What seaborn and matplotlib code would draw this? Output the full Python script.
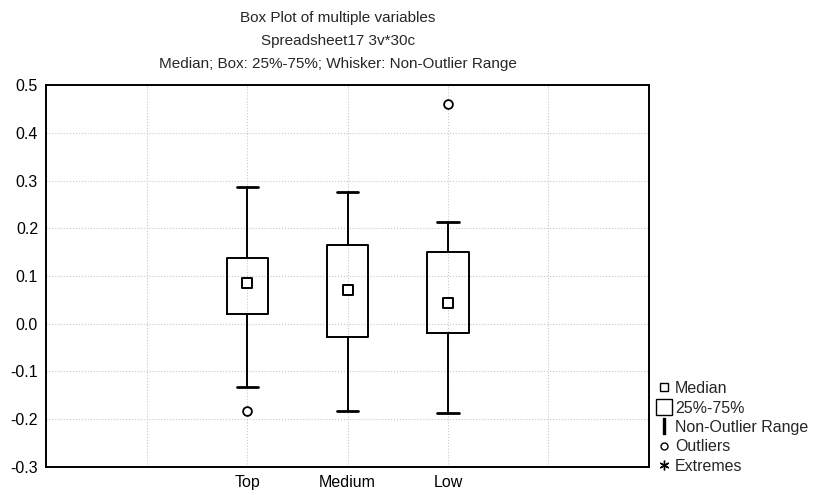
import pandas as pd
import matplotlib

matplotlib.use("Agg")
import matplotlib.pyplot as plt
from matplotlib.lines import Line2D
import seaborn as sns

# values
groups = ["Top", "Medium", "Low"]
whisker_low = [-0.133, -0.183, -0.187]
q1 = [0.021, -0.028, -0.020]
medians = [0.085, 0.071, 0.044]
q3 = [0.138, 0.165, 0.150]
whisker_high = [0.286, 0.275, 0.213]
outlier_group = ["Top", "Low"]
outlier_value = [-0.183, 0.461]

sns.set_style("white")
plt.rcParams["font.family"] = ["Liberation Sans", "DejaVu Sans"]

fig = plt.figure(figsize=(8.13, 4.95), dpi=100)
ax = fig.add_axes([0.057, 0.057, 0.741, 0.771])

stats = []
for i, g in enumerate(groups):
    stats.append(
        {
            "label": g,
            "whislo": whisker_low[i],
            "q1": q1[i],
            "med": medians[i],
            "q3": q3[i],
            "whishi": whisker_high[i],
            "fliers": [],
        }
    )
ax.bxp(
    stats,
    positions=range(len(groups)),
    widths=0.41,
    showfliers=False,
    boxprops=dict(color="black", linewidth=1.4),
    whiskerprops=dict(color="black", linewidth=1.4),
    capprops=dict(color="black", linewidth=2),
    medianprops=dict(linewidth=0),
    capwidths=0.21,
    manage_ticks=False,
)

pos = {g: i for i, g in enumerate(groups)}
med_df = pd.DataFrame({"x": [pos[g] for g in groups], "y": medians})
out_df = pd.DataFrame({"x": [pos[g] for g in outlier_group], "y": outlier_value})
sns.scatterplot(data=med_df, x="x", y="y", marker="s", s=45, facecolor="white",
                edgecolor="black", linewidth=1.4, ax=ax, zorder=5)
sns.scatterplot(data=out_df, x="x", y="y", marker="o", s=40, facecolor="white",
                edgecolor="black", linewidth=1.3, ax=ax, zorder=5)

ax.set_xlim(-2, 4)
ax.set_ylim(-0.3, 0.5)
ax.set_xticks([-1, 0, 1, 2, 3])
ax.set_xticklabels(["", "Top", "Medium", "Low", ""], fontsize=11.5)
ax.set_yticks([-0.3, -0.2, -0.1, 0.0, 0.1, 0.2, 0.3, 0.4, 0.5])
ax.set_yticklabels([f"{v:.1f}" for v in ax.get_yticks()], fontsize=11.5)
ax.set_xlabel("")
ax.set_ylabel("")
ax.tick_params(direction="in", length=3, width=1, colors="black", pad=6)
ax.grid(True, linestyle=":", color="#c8c8c8", linewidth=0.8)
for s in ax.spines.values():
    s.set_color("black")
    s.set_linewidth(1.4)

cx = (0.057 + 0.057 + 0.741) / 2
fig.text(cx - 0.012, 0.963, "Box Plot of multiple variables", ha="center", va="center",
         fontsize=11)
fig.text(cx - 0.012, 0.917, "Spreadsheet17 3v*30c", ha="center", va="center", fontsize=11)
fig.text(cx - 0.012, 0.871, "Median; Box: 25%-75%; Whisker: Non-Outlier Range", ha="center",
         va="center", fontsize=11)

handles = [
    Line2D([], [], marker="s", linestyle="", markersize=6, markerfacecolor="white",
           markeredgecolor="black"),
    Line2D([], [], marker="s", linestyle="", markersize=11, markerfacecolor="white",
           markeredgecolor="black"),
    Line2D([], [], marker=r"$\mathsf{I}$", linestyle="", markersize=11, color="black"),
    Line2D([], [], marker="o", linestyle="", markersize=5, markerfacecolor="white",
           markeredgecolor="black"),
    Line2D([], [], marker=(6, 2, 0), linestyle="", markersize=7, color="black"),
]
labels = ["Median", "25%-75%", "Non-Outlier Range", "Outliers", "Extremes"]
fig.legend(handles, labels, loc="lower left", bbox_to_anchor=(0.795, 0.02),
           frameon=False, fontsize=11.5, handlelength=0.8, handletextpad=0.3,
           labelspacing=0.28, borderpad=0.2)

fig.savefig("out.png", dpi=100)
